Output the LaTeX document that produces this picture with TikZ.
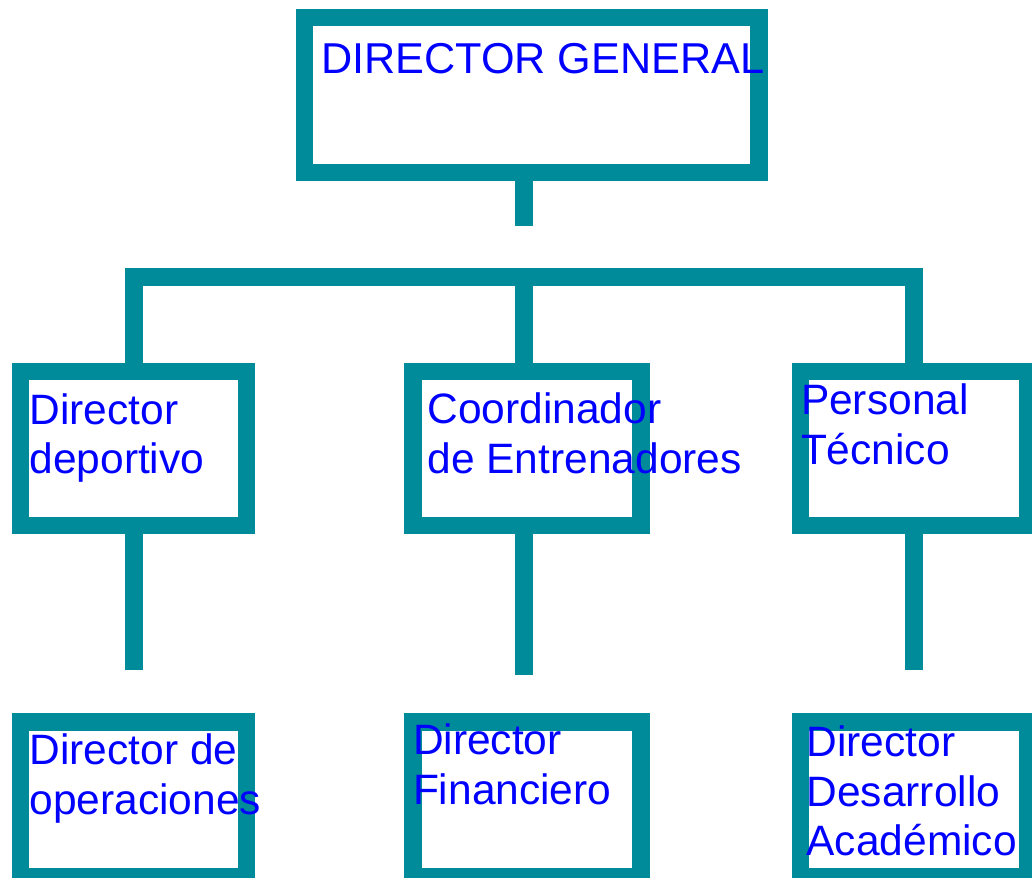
\documentclass[tikz,border=0pt]{standalone}
\usepackage{fontspec}
\setmainfont{Liberation Sans}
\definecolor{teal1}{RGB}{0,139,154}
\definecolor{txtblue}{RGB}{0,0,255}
\begin{document}
\begin{tikzpicture}[x=1pt,y=-1pt,
  box/.style={draw=teal1,line width=17.5pt,rectangle,inner sep=0pt,fill=white},
  conn/.style={draw=teal1,line width=17.8pt,line join=miter},
  lbl/.style={text=txtblue,inner sep=0pt,outer sep=0pt,anchor=base west,align=left,
    font=\fontsize{42.5}{49.5}\selectfont}]
\useasboundingbox (0,0) rectangle (1032,877);
% boxes
\node[box,minimum width=454.5pt,minimum height=154.8pt] (top) at (531.75,95.1) {};
\node[box,minimum width=226pt,minimum height=154.3pt] (b1) at (133.6,448.4) {};
\node[box,minimum width=228pt,minimum height=154.3pt] (b2) at (527,448.4) {};
\node[box,minimum width=227.5pt,minimum height=154.3pt] (b3) at (914,448.4) {};
\node[box,minimum width=226pt,minimum height=154.3pt] (c1) at (133.6,799.2) {};
\node[box,minimum width=228pt,minimum height=154.3pt] (c2) at (527,799.2) {};
\node[box,minimum width=227.5pt,minimum height=154.3pt] (c3) at (914,799.2) {};
% connector points
\coordinate (s0) at (523.7,225.7);
\coordinate (bar) at (523.7,276.7);
\coordinate (bl) at (134,276.7);
\coordinate (br) at (913.7,276.7);
\coordinate (e1) at (134,669.7);
\coordinate (e2) at (523.7,675);
\coordinate (e3) at (913.7,669.7);
% connectors
\draw[conn] (top.south -| s0) -- (s0);
\draw[conn] (b1.north -| bl) -- (bl) -- (br) -- (b3.north -| br);
\draw[conn] (bar) -- (b2.north -| bar);
\draw[conn] (b1.south -| e1) -- (e1);
\draw[conn] (b2.south -| e2) -- (e2);
\draw[conn] (b3.south -| e3) -- (e3);
% labels (multi-line nodes: base = last line)
\node[lbl,font=\fontsize{43.2}{49.5}\selectfont] (tTop) at (321,74) {DIRECTOR GENERAL};
\node[lbl] (tb1) at (29.5,473.5) {Director\\deportivo};
\node[lbl] (tb2) at (427.5,473) {Coordinador\\de Entrenadores};
\node[lbl] (tb3) at (801,464.3) {Personal\\Técnico};
\node[lbl] (tc1) at (29.5,814.3) {Director de\\operaciones};
\node[lbl] (tc2) at (413,804) {Director\\Financiero};
\node[lbl] (tc3) at (806.5,855.7) {Director\\Desarrollo\\Académico};
\end{tikzpicture}
\end{document}
